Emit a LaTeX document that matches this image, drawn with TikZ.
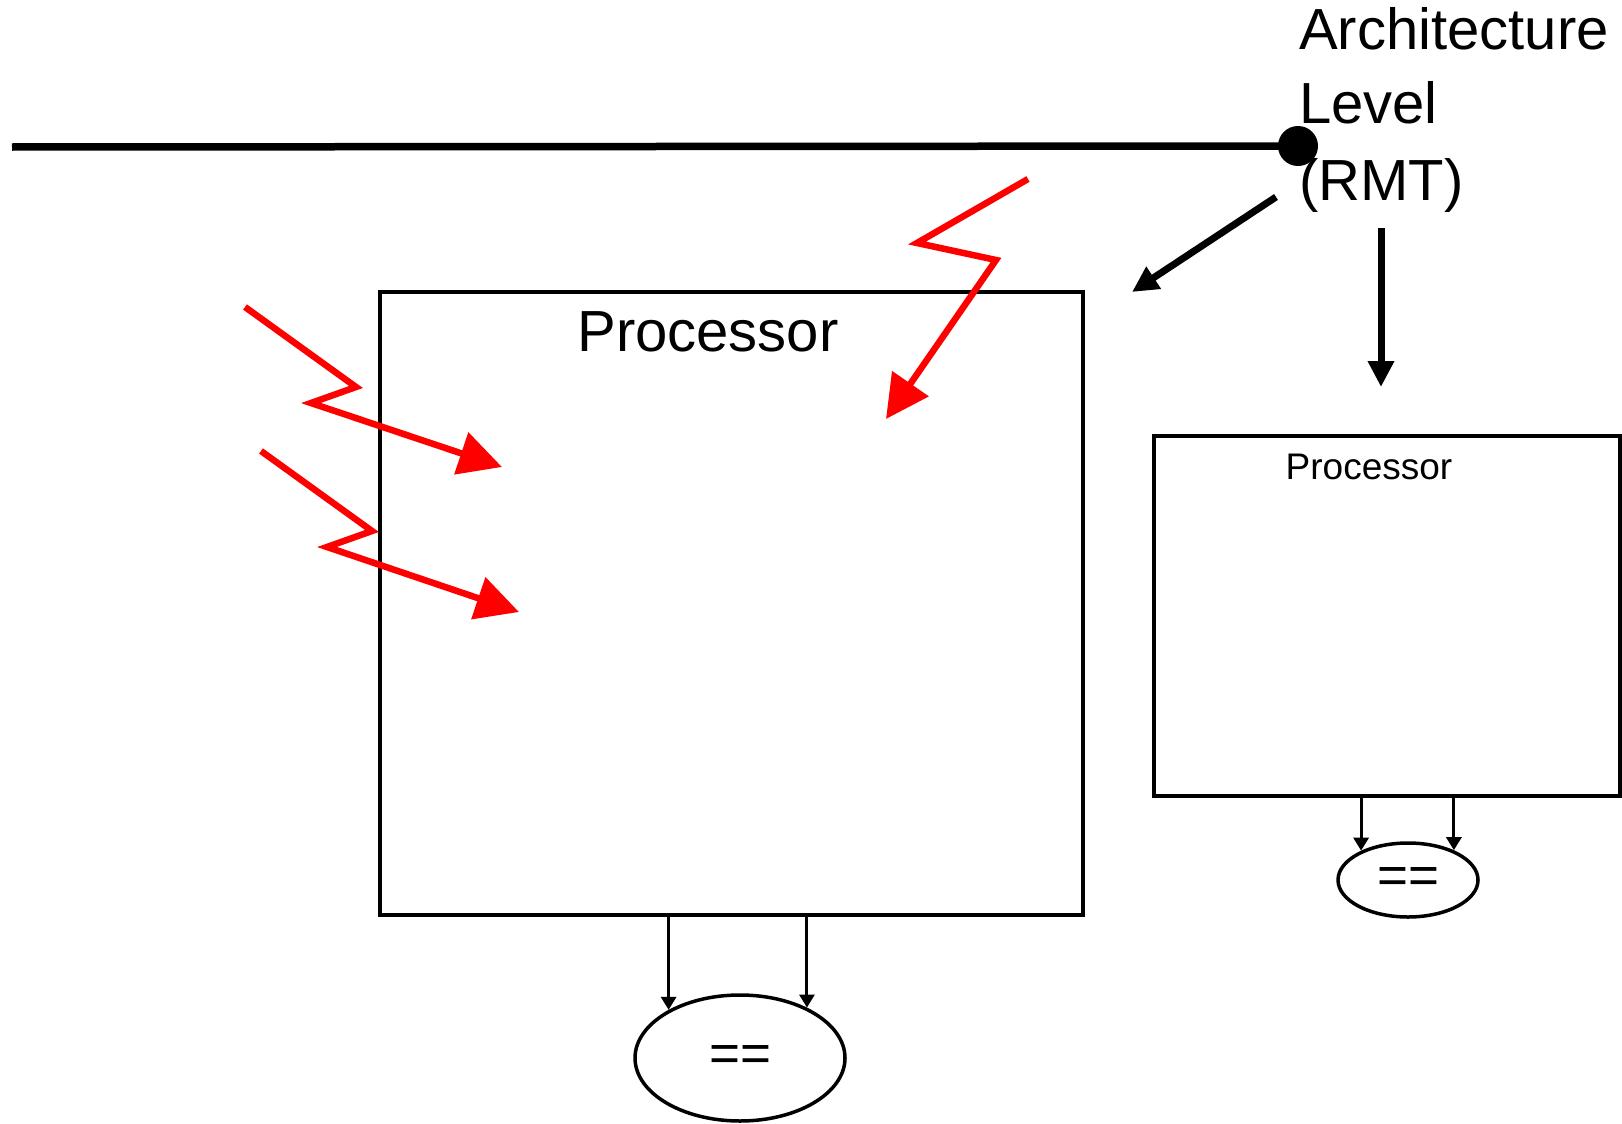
\documentclass[tikz,border=0pt]{standalone}
\usepackage{fontspec}
\setmainfont{Liberation Sans}
\usetikzlibrary{arrows.meta,shapes.geometric}
\begin{document}
\begin{tikzpicture}[x=1pt,y=-1pt,
  redray/.style={draw=red, line width=6.5pt, -{Triangle[length=43pt,width=43pt]}},
  bigarrow/.style={line width=7pt, -{Triangle[length=26pt,width=25pt]}},
  smallarrow/.style={line width=3pt, -{Triangle[length=13pt,width=15pt]}},
  procbox/.style={draw, rectangle, line width=3.5pt, inner sep=0pt},
  cmpnode/.style={draw, ellipse, line width=3.5pt, inner sep=0pt, font=\fontsize{53}{53}\selectfont},
  labtext/.style={anchor=base west, inner sep=0pt, font=\fontsize{58}{58}\selectfont},
]
\useasboundingbox (0,0) rectangle (1622,1124);

% level line and label
\coordinate (lstart) at (12,147);
\node[circle, fill=black, inner sep=0pt, minimum size=40pt] (dot) at (1298,146) {};
\draw[line width=7.5pt] (lstart) -- (dot.center);
\node[labtext] (lab1) at (1299,50) {Architecture};
\node[labtext] (lab2) at (1299,123) {Level};
\node[labtext] (lab3) at (1299,200) {(RMT)};

% processors
\node[procbox, minimum width=703pt, minimum height=623pt] (bigbox) at (731.5,603.5) {};
\node[anchor=base, inner sep=0pt, font=\fontsize{58}{58}\selectfont] (bigtitle) at (708,351) {Processor};
\node[procbox, minimum width=466pt, minimum height=360pt] (smallbox) at (1387,616) {};
\node[anchor=base, inner sep=0pt, font=\fontsize{37}{37}\selectfont] (smalltitle) at (1369,479) {Processor};

% comparators
\node[cmpnode, minimum width=210pt, minimum height=126pt] (bigeq) at (740,1058) {==};
\node[cmpnode, minimum width=140pt, minimum height=74pt] (smalleq) at (1408,880) {==};

\draw[smallarrow] (bigbox.south -| bigeq.146) -- (bigeq.146);
\draw[smallarrow] (bigbox.south -| bigeq.37) -- (bigeq.37);
\draw[smallarrow] (smallbox.south -| smalleq.148) -- (smalleq.148);
\draw[smallarrow] (smallbox.south -| smalleq.33) -- (smalleq.33);

% black arrows from the label
\coordinate (d1) at (1276,197);
\coordinate (d2) at (1132,292);
\coordinate (v1) at (1381,228);
\coordinate (v2) at (1381,387);
\draw[bigarrow] (d1) -- (d2);
\draw[bigarrow] (v1) -- (v2);

% red rays
\draw[redray] (245,307) -- (356,387) -- (311,403) -- (502,467);
\draw[redray] (261,451) -- (372,531) -- (327,547) -- (519,612);
\draw[redray] (1028,179) -- (917,243) -- (996,260) -- (886,419);
\end{tikzpicture}
\end{document}
